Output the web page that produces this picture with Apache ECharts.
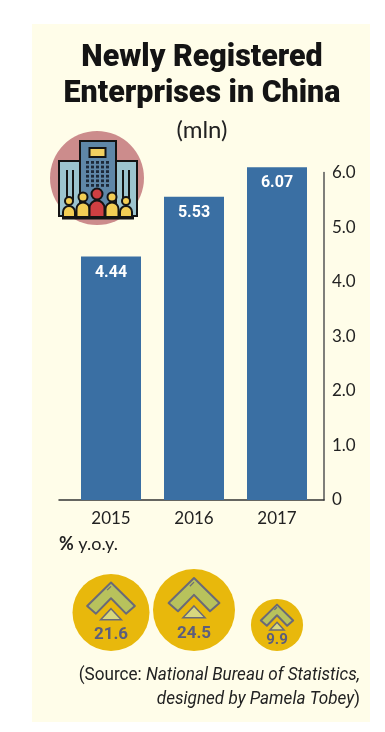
<!DOCTYPE html>
<html><head><meta charset="utf-8">
<style>html,body{margin:0;padding:0;background:#fff}#c{width:385px;height:732px}</style>
<script src="https://cdn.jsdelivr.net/npm/echarts@6/dist/echarts.min.js"></script>
</head><body><div id="c"></div>
<script>
const years = ['2015','2016','2017'];
const enterprises = [4.44,5.53,6.07];
const yoy = [21.6,24.5,9.9];
const yTicks = ['0','1.0','2.0','3.0','4.0','5.0','6.0'];
const titleLines = ['Newly Registered','Enterprises in China'];
const BODY='Lato, "Noto Sans", sans-serif';
const ink='#141414';

function icon(){
  const g=[];
  const s={stroke:ink,lineWidth:2};
  g.push({type:'circle',shape:{cx:97,cy:178,r:47},style:{fill:'#CC8C8C'}});
  g.push({type:'rect',shape:{x:59,y:161,width:21,height:55},style:{fill:'#9CC4CF',...s}});
  g.push({type:'rect',shape:{x:116,y:161,width:21,height:55},style:{fill:'#9CC4CF',...s}});
  [66,72,122,128].forEach(x=>g.push({type:'rect',shape:{x:x,y:170,width:2,height:30},style:{fill:ink}}));
  g.push({type:'rect',shape:{x:80,y:141,width:36,height:74},style:{fill:'#5F87A8',...s}});
  g.push({type:'rect',shape:{x:89.5,y:148,width:16,height:9},style:{fill:'#F3D060',...s}});
  for(let r=0;r<6;r++)for(let c=0;c<5;c++){
    g.push({type:'rect',shape:{x:86+c*5,y:161+r*4.6,width:3,height:2.8},style:{fill:'#1d2a3a'}});
  }
  g.push({type:'rect',shape:{x:62,y:216,width:72,height:3.5},style:{fill:ink}});
  const people=[[69,201,4,'#F3CE55',12],[83,197,4.5,'#F3CE55',13],[97,194,5.5,'#CF3F42',15],[112,197,4.5,'#F3CE55',13],[126,201,4,'#F3CE55',12]];
  [0,4,1,3,2].forEach(i=>{
    const [x,y,r,f,w]=people[i];
    g.push({type:'rect',shape:{x:x-w/2,y:y+r+1,width:w,height:217-(y+r+1),r:[w/2,w/2,0,0]},style:{fill:f,...s}});
    g.push({type:'circle',shape:{cx:x,cy:y,r:r},style:{fill:f,...s}});
  });
  return g;
}

function txt(text,x,y,font,sx,align,rich,fill){
  return {type:'text',x:x,y:y,scaleX:sx,silent:true,
    style:{x:0,y:0,text:text,font:font,fill:fill||'#222',align:align,verticalAlign:'middle',rich:rich}};
}

function bubble(params,api){
  const v=api.value(2);
  const p=api.coord([api.value(0),api.value(1)]);
  const r=Math.sqrt(68.6*v);
  const cx=p[0], cy=p[1]-r;
  const P=(a,b)=>[cx+a*r,cy+b*r];
  return {type:'group',silent:true,children:[
    {type:'circle',shape:{cx,cy,r},style:{fill:'#E8B80C'}},
    {type:'polygon',shape:{points:[P(0,-0.78),P(0.62,-0.17),P(0.39,0.03),P(0,-0.37),P(-0.39,0.03),P(-0.62,-0.17)]},
      style:{fill:'#B8C25C',stroke:'#6A6A78',lineWidth:2,lineJoin:'round'}},
    {type:'line',shape:{x1:P(0,-0.68)[0],y1:P(0,-0.68)[1],x2:P(-0.1,-0.58)[0],y2:P(-0.1,-0.58)[1]},style:{stroke:'#6A6A78',lineWidth:1.2}},
    {type:'polygon',shape:{points:[P(0,-0.1),P(0.27,0.19),P(-0.27,0.19)]},
      style:{fill:'#D8D87E',stroke:'#6A6A78',lineWidth:1.5}},
    {type:'text',style:{x:cx,y:cy+0.57*r,text:api.value(3),fill:'#5C5E7C',font:'bold '+(r<30?15:17)+'px Roboto, sans-serif',align:'center',verticalAlign:'middle'}}
  ]};
}

const srcFont='400 19px Roboto, sans-serif';
const srcItal='italic 400 19px Roboto, sans-serif';
const srcRich={i:{font:srcItal,fill:'#222'}};
const chart=echarts.init(document.getElementById('c'),null,{renderer:'canvas'});
chart.setOption({
  animation:false,
  backgroundColor:'#fff',
  graphic:{elements:[
    {type:'rect',z:-10,silent:true,shape:{x:32,y:24,width:338,height:698},style:{fill:'#FFFDE9'}},
    ...icon(),
    txt(titleLines[0],202,58,'900 32px Roboto, sans-serif',0.95,'center',undefined,ink),
    txt(titleLines[1],202,94,'900 32px Roboto, sans-serif',0.95,'center',undefined,ink),
    txt('(mln)',202,130,'400 24px Lato, sans-serif',1,'center'),
    txt('{b|%} y.o.y.',59,544,'400 18px Lato, sans-serif',1,'left',{b:{font:'bold 18px Lato, sans-serif',fill:'#222'}}),
    txt('(Source: {i|National Bureau of Statistics,}',360,675,srcFont,0.9,'right',srcRich),
    txt('{i|designed by Pamela Tobey})',360,699,srcFont,0.9,'right',srcRich)
  ]},
  grid:[
    {left:69.5,right:66.5,top:171,bottom:232},
    {left:59,right:61,top:172.5,bottom:232},
    {left:69.5,right:66.5,top:560,height:91}
  ],
  xAxis:[
    {gridIndex:0,type:'category',data:years,axisLine:{show:false},axisTick:{show:false},
      axisLabel:{color:'#222',fontFamily:BODY,fontSize:17,margin:10}},
    {gridIndex:1,type:'category',data:[''],axisLine:{show:true,lineStyle:{color:'#333',width:1.5}},axisTick:{show:false},axisLabel:{show:false}},
    {gridIndex:2,type:'category',data:years,show:false}
  ],
  yAxis:[
    {gridIndex:0,type:'value',min:0,max:6,show:false},
    {gridIndex:1,type:'value',position:'right',min:0,max:6,interval:1,splitLine:{show:false},
      axisLine:{show:true,lineStyle:{color:'#555',width:1.5}},axisTick:{show:false},
      axisLabel:{color:'#222',fontFamily:BODY,fontSize:17,margin:8,formatter:(v,i)=>yTicks[i]}},
    {gridIndex:2,type:'value',min:0,max:1,show:false}
  ],
  series:[
    {type:'bar',xAxisIndex:0,yAxisIndex:0,data:enterprises,barWidth:60,clip:false,
      itemStyle:{color:'#3A6FA3'},
      label:{show:true,position:'insideTop',distance:8,color:'#fff',fontFamily:'Roboto',fontWeight:'bold',fontSize:16,formatter:p=>p.value.toFixed(2)}},
    {type:'custom',xAxisIndex:2,yAxisIndex:2,clip:false,renderItem:bubble,
      data:yoy.map((v,i)=>[i,0,v,v.toFixed(1)]),encode:{x:0,y:1}}
  ]
});
</script></body></html>
